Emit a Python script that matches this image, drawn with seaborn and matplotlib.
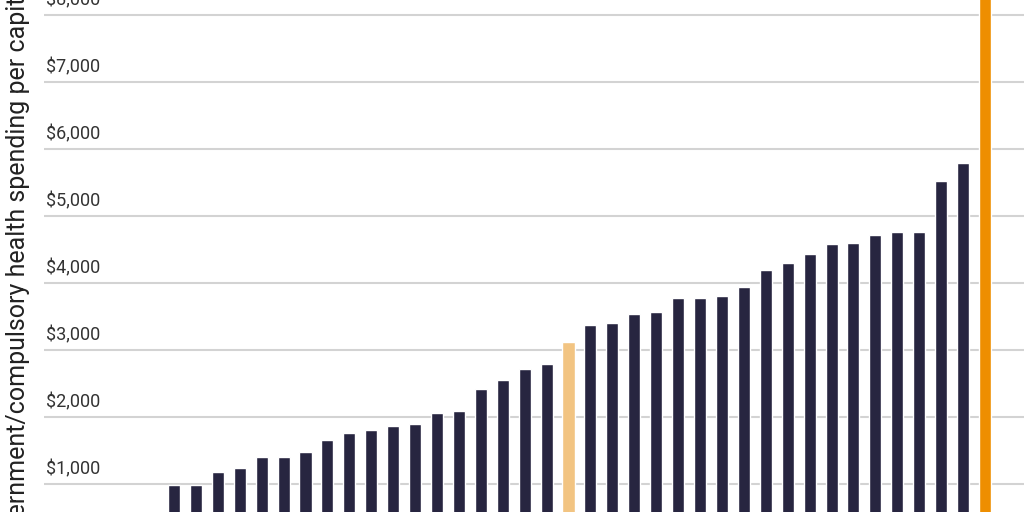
import numpy as np
import pandas as pd
import matplotlib
matplotlib.use("Agg")
import matplotlib.pyplot as plt
import matplotlib.transforms as mtransforms
import seaborn as sns

# per-capita government/compulsory health spending, sorted
values = [990, 990, 1180, 1240, 1400, 1400, 1480, 1650, 1760, 1810,
          1870, 1900, 2060, 2090, 2420, 2550, 2720, 2790, 3120, 3370,
          3400, 3540, 3560, 3780, 3780, 3810, 3940, 4190, 4300, 4430,
          4580, 4600, 4710, 4760, 4760, 5520, 5790, 10600]
group = ["other"] * 38
group[18] = "avg"
group[37] = "us"
yticks = [1000, 2000, 3000, 4000, 5000, 6000, 7000, 8000]

colors = {"other": "#272540", "avg": "#F2C482", "us": "#EE8E00"}

df = pd.DataFrame({"pos": range(len(values)), "value": values, "group": group})

sns.set_style("white")
plt.rcParams["font.family"] = ["Roboto", "DejaVu Sans"]

fig = plt.figure(figsize=(10.24, 5.12), dpi=100)
ax = fig.add_axes([44 / 1024, 0, 980 / 1024, 1])

sns.barplot(data=df, x="pos", y="value", hue="group", palette=colors,
            width=0.55, saturation=1, legend=False, ax=ax, zorder=3)

ax.set_xlim(-5.93, 38.78)
ax.set_ylim(580, 8220)
ax.set_yticks(yticks)
ax.yaxis.grid(True, color="#d3d3d3", linewidth=1.5, zorder=0)
ax.set_axisbelow(True)
ax.tick_params(left=False, bottom=False, labelleft=False, labelbottom=False)
for s in ax.spines.values():
    s.set_visible(False)
ax.set_xlabel("")
ax.set_ylabel("")

trans = mtransforms.blended_transform_factory(ax.transAxes, ax.transData)
for t in yticks:
    ax.text(0.002, t + 80, f"${t:,}", transform=trans, ha="left", va="bottom",
            fontsize=13, color="#333333")

fig.text(18 / 1024, 0.47, "Government/compulsory health spending per capita",
         rotation=90, ha="center", va="center", fontsize=18, color="#222222")

fig.savefig("out.png", dpi=100)
